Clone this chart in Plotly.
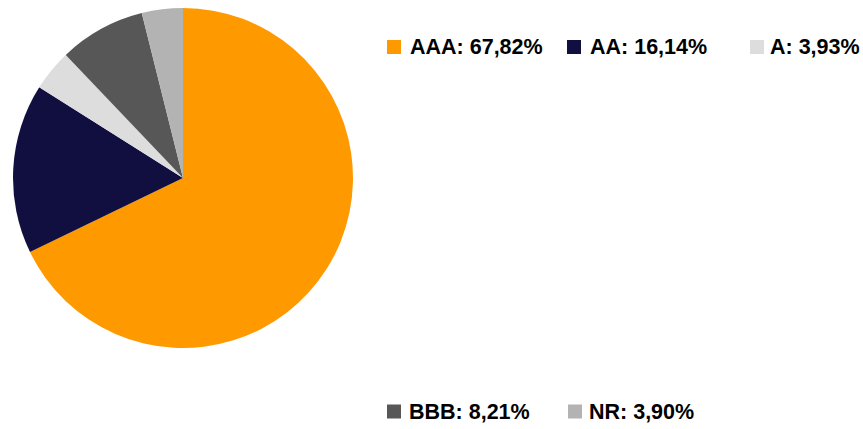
import plotly.graph_objects as go

labels = ["AAA", "AA", "A", "BBB", "NR"]
values = [67.82, 16.14, 3.93, 8.21, 3.90]
value_text = ["67,82%", "16,14%", "3,93%", "8,21%", "3,90%"]
colors = ["#FF9900", "#100F40", "#DDDDDD", "#575757", "#B3B3B3"]

W, H = 863, 429


def px(x):
    return x / W


def py(y):
    return 1 - y / H


# legend layout (pixels in window): square left x, text left x, row center y
legend_sq_x = [387, 567, 750, 387, 568]
legend_tx_x = [409, 589, 769, 408, 588]
legend_row_y = [47, 47, 47, 411.5, 411.5]
SQ = 14

fig = go.Figure()
fig.add_trace(go.Pie(
    labels=labels, values=values, sort=False, direction="clockwise",
    marker=dict(colors=colors, line=dict(width=0)),
    textinfo="none", hoverinfo="label+percent", showlegend=False,
    domain=dict(x=[px(13), px(353)], y=[py(348), py(8)]),
))

shapes = []
annotations = []
for i, lab in enumerate(labels):
    x0 = legend_sq_x[i]
    yc = legend_row_y[i]
    shapes.append(dict(type="rect", xref="paper", yref="paper",
                       x0=px(x0), x1=px(x0 + SQ),
                       y0=py(yc + SQ / 2), y1=py(yc - SQ / 2),
                       fillcolor=colors[i], line=dict(width=0)))
    annotations.append(dict(xref="paper", yref="paper",
                            x=px(legend_tx_x[i]), y=py(yc),
                            xanchor="left", yanchor="middle", showarrow=False,
                            xshift=-1,
                            text=f"<b>{lab}: {value_text[i]}</b>",
                            font=dict(family="Liberation Sans, Arial", size=21.5, color="#000000")))

fig.update_layout(
    width=W, height=H, margin=dict(l=0, r=0, t=0, b=0),
    paper_bgcolor="white", plot_bgcolor="white",
    shapes=shapes, annotations=annotations,
)
fig.write_html(
    "out.html",
    config={"displayModeBar": False},
    post_script="document.body.style.margin='0';document.body.style.padding='0';document.body.style.overflow='hidden';",
)
